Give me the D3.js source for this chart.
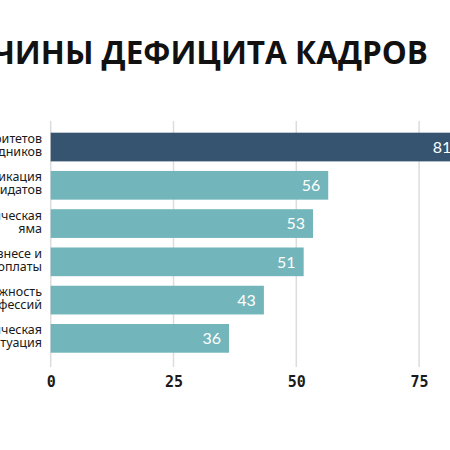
<!DOCTYPE html>
<html>
<head>
<meta charset="utf-8">
<script src="https://cdn.jsdelivr.net/npm/d3@7"></script>
<style>
  html, body { margin: 0; padding: 0; background: #fff; overflow: hidden; }
  svg { display: block; overflow: visible; }
</style>
</head>
<body>
<svg id="chart"></svg>
<script>
// data
const categories = [
  ["Смена приоритетов", "у сотрудников"],
  ["Низкая квалификация", "кандидатов"],
  ["Демографическая", "яма"],
  ["Кризис в бизнесе и", "уровень оплаты"],
  ["Непрестижность", "профессий"],
  ["Экономическая", "ситуация"]
]
// bar lengths as measured, and the numbers printed on them
const values = [83.2, 56.5, 53.4, 51.5, 43.4, 36.3]
const valueLabels = ["81", "56", "53", "51", "43", "36"]
const highlight = [true, false, false, false, false, false]
const xTicks = [0, 25, 50, 75]
const title = "ПРИЧИНЫ ДЕФИЦИТА КАДРОВ"

const width = 450, height = 450

const svg = d3.select('#chart')
  .attr('width', width)
  .attr('height', height)

const x = d3.scaleLinear()
  .domain([0, 25])
  .range([50.7, 173.5])

const y = d3.scaleBand()
  .domain(d3.range(categories.length))
  .range([127.9, 357.5])
  .paddingInner(0.25)
  .paddingOuter(0.125)

// title (cut off on the left like the original)
svg.append('text')
  .attr('x', 428)
  .attr('y', 64)
  .attr('text-anchor', 'end')
  .attr('font-family', '"Open Sans", "Noto Sans", sans-serif')
  .attr('font-weight', 700)
  .attr('font-size', 31.5)
  .attr('fill', '#111')
  .text(title)

// vertical grid lines
svg.append('g')
  .selectAll('line')
  .data(xTicks)
  .enter()
  .append('line')
  .attr('x1', d => x(d))
  .attr('x2', d => x(d))
  .attr('y1', 121)
  .attr('y2', 367)
  .attr('stroke', '#dcdcdc')
  .attr('stroke-width', 1.5)

// x axis labels
const xAxis = svg.append('g')
  .attr('transform', 'translate(0, 368)')
  .call(d3.axisBottom(x).tickValues(xTicks).tickSize(0).tickPadding(8))
xAxis.select('.domain').remove()
xAxis.selectAll('text')
  .attr('font-family', '"DejaVu Sans Mono", "Liberation Mono", monospace')
  .attr('font-size', 15)
  .attr('font-weight', 'bold')
  .attr('fill', '#1a1a1a')

const bars = svg.append('g')
  .selectAll('g')
  .data(values)
  .enter()
  .append('g')

bars.append('rect')
  .attr('x', x(0))
  .attr('y', (d, i) => y(i))
  .attr('width', d => x(d) - x(0))
  .attr('height', y.bandwidth())
  .attr('fill', (d, i) => highlight[i] ? '#36536f' : '#72b5ba')

bars.append('text')
  .attr('x', d => x(d) - 8)
  .attr('y', (d, i) => y(i) + y.bandwidth() / 2)
  .attr('dy', '0.36em')
  .attr('text-anchor', 'end')
  .attr('font-family', 'Lato, "Open Sans", sans-serif')
  .attr('font-size', 16)
  .attr('fill', '#fff')
  .text((d, i) => valueLabels[i])

// category labels, two lines each
const labels = svg.append('g')
  .selectAll('text')
  .data(categories)
  .enter()
  .append('text')
  .attr('text-anchor', 'end')
  .attr('font-family', '"Noto Sans", "Open Sans", sans-serif')
  .attr('font-size', 12.5)
  .attr('fill', '#1a1a1a')

labels.selectAll('tspan')
  .data((d, i) => d.map(t => ({ t: t, i: i })))
  .enter()
  .append('tspan')
  .attr('x', 42)
  .attr('y', (d, j) => y(d.i) + y.bandwidth() / 2 + (j === 0 ? -4 : 9))
  .text(d => d.t)
</script>
</body>
</html>
